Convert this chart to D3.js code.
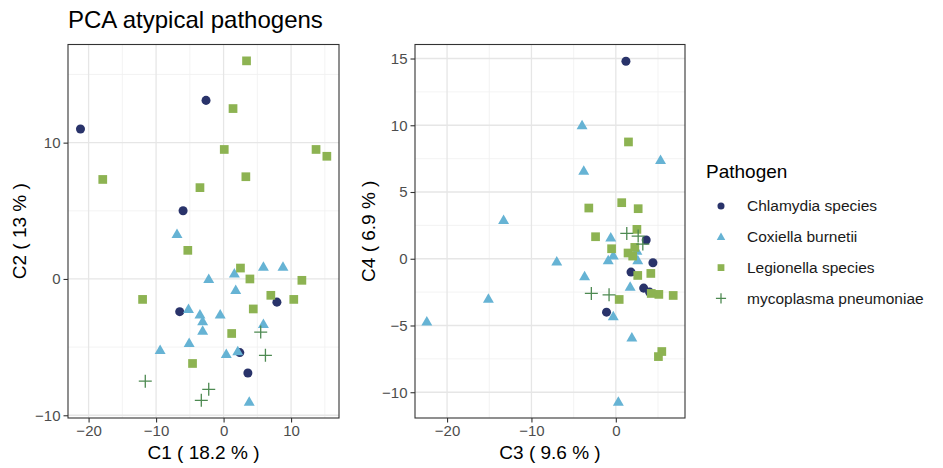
<!DOCTYPE html>
<html>
<head>
<meta charset="utf-8">
<script src="https://cdn.jsdelivr.net/npm/d3@7"></script>
<style>
  body { margin: 0; background: #fff; }
  svg { font-family: "Liberation Sans", Arial, sans-serif; }
</style>
</head>
<body>
<svg id="chart" width="943" height="468"></svg>
<script>
// pathogen groups
var pathogens = ["Chlamydia species", "Coxiella burnetii", "Legionella species", "mycoplasma pneumoniae"];
var colors = ["#29336a", "#66b3d4", "#8db352", "#4e8a52"];
var shapes = ["circle", "triangle", "square", "plus"];

// C1 / C2 scores
var chlamydiaC12 = [[-2.6,13.1],[-21.2,11.0],[-6.0,5.0],[-6.5,-2.4],[7.9,-1.7],[2.4,-5.4],[3.6,-6.9]];
var coxiellaC12 = [[-6.9,3.3],[-2.2,0.0],[1.6,0.4],[5.9,0.9],[8.8,0.9],[1.8,-0.8],[-5.2,-2.2],[-3.5,-2.6],
  [-3.1,-3.1],[-0.5,-2.6],[-3.1,-3.8],[5.9,-3.3],[-5.1,-4.7],[-9.4,-5.2],[0.4,-5.5],[2.1,-5.3],[3.8,-9.0]];
var legionellaC12 = [[3.4,16.0],[1.4,12.5],[0.1,9.5],[13.7,9.5],[15.3,9.0],[-17.9,7.3],[3.3,7.5],[-3.5,6.7],
  [-5.3,2.1],[2.5,0.8],[3.9,0.0],[11.6,-0.1],[7.0,-1.2],[10.4,-1.5],[-12.0,-1.5],[4.4,-2.2],[1.2,-4.0],[-4.6,-6.2]];
var mycoplasmaC12 = [[5.5,-3.9],[6.2,-5.6],[-11.6,-7.5],[-2.2,-8.1],[-3.3,-8.9]];

// C3 / C4 scores
var chlamydiaC34 = [[1.2,14.8],[3.6,1.4],[4.4,-0.3],[1.8,-1.0],[3.3,-2.2],[4.0,-2.5],[-1.1,-4.0]];
var coxiellaC34 = [[-4.0,10.0],[-3.8,6.6],[5.3,7.4],[-13.3,2.9],[-0.6,1.6],[-7.0,-0.2],[-0.9,-0.1],[-0.3,0.25],
  [2.5,0.6],[2.6,-0.1],[-3.7,-1.3],[1.7,-2.1],[-15.1,-3.0],[-0.3,-4.3],[-22.4,-4.7],[1.9,-5.9],[0.3,-10.7]];
var legionellaC34 = [[1.5,8.75],[-3.2,3.8],[0.7,4.2],[2.65,3.75],[-2.4,1.65],[2.5,2.2],[-0.5,0.75],[1.45,0.43],
  [2.25,0.85],[2.0,0.2],[2.6,-1.25],[4.15,-1.1],[0.4,-3.05],[4.2,-2.6],[5.1,-2.67],[6.8,-2.75],[5.45,-6.95],[5.05,-7.33]];
var mycoplasmaC34 = [[1.3,1.9],[2.65,1.7],[3.2,1.1],[-2.9,-2.6],[-0.8,-2.7]];

var svg = d3.select('#chart');

svg.append('text')
  .attr('x', 68).attr('y', 28)
  .attr('font-size', '24px').attr('fill', '#000')
  .text('PCA atypical pathogens');

// k scales the marker, 1 = plot size
function symbol(g, shape, color, k){
  if(shape === 'plus'){
    var h = 6.5 * k;
    g.append('path')
      .attr('d', 'M' + (-h) + ',0H' + h + 'M0,' + (-h) + 'V' + h)
      .attr('stroke', color).attr('stroke-width', 1.3).attr('fill', 'none');
    return;
  }
  var type = shape === 'circle' ? d3.symbolCircle : shape === 'triangle' ? d3.symbolTriangle : d3.symbolSquare;
  var area = shape === 'circle' ? 64 : shape === 'triangle' ? 52 : 76;
  g.append('path')
    .attr('d', d3.symbol().type(type).size(area * k * k)())
    .attr('transform', shape === 'triangle' ? 'translate(0,' + (0.9 * k) + ')' : null)
    .attr('fill', color);
}

function panel(cfg){
  var x = d3.scaleLinear().domain(cfg.xDomain).range([cfg.left, cfg.right]);
  var y = d3.scaleLinear().domain(cfg.yDomain).range([cfg.bottom, cfg.top]);
  var g = svg.append('g');

  // minor grid
  cfg.xMinor.forEach(function(v){
    g.append('line').attr('x1', x(v)).attr('x2', x(v)).attr('y1', cfg.top).attr('y2', cfg.bottom)
      .attr('stroke', '#f0f0f0').attr('stroke-width', 0.8);
  });
  cfg.yMinor.forEach(function(v){
    g.append('line').attr('y1', y(v)).attr('y2', y(v)).attr('x1', cfg.left).attr('x2', cfg.right)
      .attr('stroke', '#f0f0f0').attr('stroke-width', 0.8);
  });
  // major grid
  cfg.xTicks.forEach(function(v){
    g.append('line').attr('x1', x(v)).attr('x2', x(v)).attr('y1', cfg.top).attr('y2', cfg.bottom)
      .attr('stroke', '#e6e6e6').attr('stroke-width', 1.3);
  });
  cfg.yTicks.forEach(function(v){
    g.append('line').attr('y1', y(v)).attr('y2', y(v)).attr('x1', cfg.left).attr('x2', cfg.right)
      .attr('stroke', '#e6e6e6').attr('stroke-width', 1.3);
  });

  // points, drawn group by group
  cfg.series.forEach(function(pts, i){
    pts.forEach(function(p){
      var pg = g.append('g').attr('transform', 'translate(' + x(p[0]) + ',' + y(p[1]) + ')');
      symbol(pg, shapes[i], colors[i], 1);
    });
  });

  g.append('rect')
    .attr('x', cfg.left).attr('y', cfg.top)
    .attr('width', cfg.right - cfg.left).attr('height', cfg.bottom - cfg.top)
    .attr('fill', 'none').attr('stroke', '#333').attr('stroke-width', 1.1);

  var xAxis = g.append('g').attr('transform', 'translate(0,' + cfg.bottom + ')')
    .call(d3.axisBottom(x).tickValues(cfg.xTicks).tickSize(4.5).tickPadding(3));
  var yAxis = g.append('g').attr('transform', 'translate(' + cfg.left + ',0)')
    .call(d3.axisLeft(y).tickValues(cfg.yTicks).tickSize(4.5).tickPadding(3));
  [xAxis, yAxis].forEach(function(a){
    a.select('.domain').remove();
    a.selectAll('line').attr('stroke', '#333').attr('stroke-width', 1.1);
    a.selectAll('text').attr('fill', '#4d4d4d').attr('font-size', '15px')
      .attr('font-family', '"Liberation Sans", Arial, sans-serif');
  });

  g.append('text')
    .attr('x', (cfg.left + cfg.right) / 2).attr('y', cfg.xTitleY)
    .attr('text-anchor', 'middle').attr('font-size', '19px').attr('fill', '#000')
    .text(cfg.xTitle);
  g.append('text')
    .attr('transform', 'translate(' + cfg.yTitleX + ',' + (cfg.top + cfg.bottom) / 2 + ') rotate(-90)')
    .attr('text-anchor', 'middle').attr('dy', '0.35em').attr('font-size', '19px').attr('fill', '#000')
    .text(cfg.yTitle);
}

panel({
  left: 68, right: 339, top: 44.5, bottom: 418,
  xDomain: [-23.05, 17.1], yDomain: [-10.2, 17.2],
  xTicks: [-20, -10, 0, 10], yTicks: [-10, 0, 10],
  xMinor: [-15, -5, 5, 15], yMinor: [-5, 5, 15],
  series: [chlamydiaC12, coxiellaC12, legionellaC12, mycoplasmaC12],
  xTitle: 'C1 ( 18.2 % )', yTitle: 'C2 ( 13 % )',
  xTitleY: 459, yTitleX: 19
});

panel({
  left: 415, right: 685, top: 44.5, bottom: 418,
  xDomain: [-23.8, 8.2], yDomain: [-11.93, 16.05],
  xTicks: [-20, -10, 0], yTicks: [-10, -5, 0, 5, 10, 15],
  xMinor: [-15, -5, 5], yMinor: [-7.5, -2.5, 2.5, 7.5, 12.5],
  series: [chlamydiaC34, coxiellaC34, legionellaC34, mycoplasmaC34],
  xTitle: 'C3 ( 9.6 % )', yTitle: 'C4 ( 6.9 % )',
  xTitleY: 459, yTitleX: 368
});

// legend
var legend = svg.append('g').attr('transform', 'translate(706,0)');
legend.append('text').attr('x', 0).attr('y', 178).attr('font-size', '19px').attr('fill', '#000').text('Pathogen');
pathogens.forEach(function(name, i){
  var cy = 206 + i * 30.8;
  var sg = legend.append('g').attr('transform', 'translate(15,' + cy + ')');
  symbol(sg, shapes[i], colors[i], 0.78);
  legend.append('text').attr('x', 41).attr('y', cy).attr('dy', '0.35em')
    .attr('font-size', '15.5px').attr('fill', '#1a1a1a').text(name);
});
</script>
</body>
</html>
